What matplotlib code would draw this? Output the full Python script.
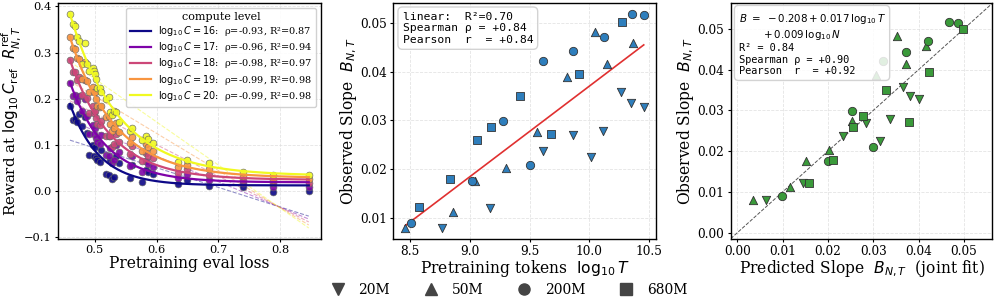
import numpy as np
import matplotlib
import matplotlib.pyplot as plt
from matplotlib.lines import Line2D

matplotlib.use("Agg")

plt.rcParams["font.family"] = "DejaVu Serif"
plt.rcParams["mathtext.fontset"] = "dejavusans"

# ---- panel 1: reward at each compute level vs pretraining eval loss ----
eval_loss = [0.460, 0.465, 0.468, 0.472, 0.474, 0.480, 0.485, 0.487, 0.491, 0.497,
             0.499, 0.500, 0.502, 0.503, 0.508, 0.510, 0.519, 0.523, 0.525, 0.528,
             0.531, 0.535, 0.540, 0.557, 0.560, 0.576, 0.583, 0.586, 0.5935, 0.635,
             0.650, 0.685, 0.740, 0.788, 0.846]
reward_c16 = [0.183, 0.154, 0.156, 0.148, 0.166, 0.140, 0.160, 0.125, 0.077, 0.100,
              0.076, 0.095, 0.071, 0.067, 0.062, 0.088, 0.036, 0.033, 0.066, 0.025,
              0.030, 0.075, 0.060, 0.027, 0.055, 0.018, 0.045, 0.040, 0.035, 0.015,
              0.024, 0.009, 0.008, -0.002, 0.000]
reward_c17 = [0.233, 0.206, 0.207, 0.194, 0.206, 0.174, 0.200, 0.163, 0.123, 0.142,
              0.122, 0.135, 0.114, 0.106, 0.102, 0.120, 0.077, 0.076, 0.092, 0.060,
              0.066, 0.099, 0.083, 0.053, 0.076, 0.041, 0.064, 0.058, 0.052, 0.027,
              0.035, 0.022, 0.016, 0.007, 0.008]
reward_c18 = [0.283, 0.258, 0.257, 0.241, 0.246, 0.208, 0.240, 0.201, 0.169, 0.184,
              0.168, 0.174, 0.157, 0.145, 0.142, 0.152, 0.118, 0.119, 0.118, 0.095,
              0.101, 0.123, 0.105, 0.079, 0.096, 0.064, 0.082, 0.076, 0.070, 0.039,
              0.046, 0.034, 0.024, 0.016, 0.017]
reward_c19 = [0.333, 0.309, 0.308, 0.287, 0.286, 0.242, 0.280, 0.238, 0.214, 0.225,
              0.214, 0.214, 0.199, 0.183, 0.182, 0.183, 0.159, 0.161, 0.144, 0.130,
              0.137, 0.146, 0.128, 0.104, 0.117, 0.087, 0.101, 0.094, 0.087, 0.051,
              0.056, 0.047, 0.032, 0.024, 0.025]
reward_c20 = [0.383, 0.361, 0.358, 0.333, 0.326, 0.276, 0.320, 0.276, 0.260, 0.267,
              0.260, 0.253, 0.242, 0.222, 0.222, 0.215, 0.200, 0.204, 0.170, 0.165,
              0.172, 0.170, 0.150, 0.130, 0.137, 0.110, 0.119, 0.112, 0.104, 0.063,
              0.067, 0.059, 0.040, 0.033, 0.033]
compute_levels = [16, 17, 18, 19, 20]
level_rho = ["-0.93", "-0.96", "-0.98", "-0.99", "-0.99"]
level_r2 = ["0.87", "0.94", "0.97", "0.98", "0.98"]

# ---- panels 2 & 3: slope per model size ----
size_labels = ["20M", "50M", "200M", "680M"]
size_markers = ["v", "^", "o", "s"]

tokens_20m = [8.765, 9.17, 9.609, 9.863, 10.01, 10.117, 10.268, 10.35, 10.455]
slope_20m = [0.0079, 0.0121, 0.0236, 0.0269, 0.0225, 0.0279, 0.0358, 0.0336, 0.0327]
pred_20m = [0.0063, 0.0144, 0.0233, 0.0284, 0.0314, 0.0336, 0.0365, 0.0382, 0.0402]

tokens_50m = [8.46, 8.863, 9.045, 9.304, 9.559, 9.81, 10.045, 10.148, 10.363]
slope_50m = [0.0079, 0.0112, 0.0175, 0.0203, 0.0275, 0.0388, 0.0482, 0.0415, 0.0459]
pred_50m = [0.0034, 0.0115, 0.0152, 0.0203, 0.0254, 0.0305, 0.0352, 0.0373, 0.0416]

tokens_200m = [8.51, 9.022, 9.277, 9.505, 9.615, 9.866, 10.12, 10.355, 10.455]
slope_200m = [0.0089, 0.0176, 0.0299, 0.0209, 0.0421, 0.0443, 0.0471, 0.0518, 0.0515]
pred_200m = [0.0099, 0.0200, 0.0253, 0.0299, 0.0321, 0.0372, 0.0422, 0.0468, 0.0488]

tokens_680m = [8.575, 8.835, 9.064, 9.176, 9.42, 9.68, 9.91, 10.27]
slope_680m = [0.0122, 0.0179, 0.0260, 0.0286, 0.0350, 0.0271, 0.0395, 0.0501]
pred_680m = [0.0159, 0.0210, 0.0256, 0.0278, 0.0328, 0.0379, 0.0424, 0.0499]

tokens_by_size = [tokens_20m, tokens_50m, tokens_200m, tokens_680m]
slope_by_size = [slope_20m, slope_50m, slope_200m, slope_680m]
pred_by_size = [pred_20m, pred_50m, pred_200m, pred_680m]


def fit_exp_decay(x, y):
    # y = a * exp(-b (x - x0)) + c, grid over b, least squares for a, c
    best = None
    x0 = x.min()
    for b in np.linspace(1.0, 40.0, 781):
        A = np.column_stack([np.exp(-b * (x - x0)), np.ones_like(x)])
        coef = np.linalg.lstsq(A, y, rcond=None)[0]
        sse = np.sum((A @ coef - y) ** 2)
        if best is None or sse < best[0]:
            best = (sse, b, coef)
    _, b, (a, c) = best
    return lambda t: a * np.exp(-b * (t - x0)) + c


fig = plt.figure(figsize=(9.96, 3.01), dpi=100)
ax1 = fig.add_axes([0.0582, 0.207, 0.2638, 0.782])
ax2 = fig.add_axes([0.3949, 0.207, 0.2634, 0.782])
ax3 = fig.add_axes([0.7336, 0.207, 0.2627, 0.782])

for ax in (ax1, ax2, ax3):
    ax.grid(True, color="#dddddd", lw=0.6, ls="--", alpha=0.8)
    ax.set_axisbelow(True)
    ax.tick_params(labelsize=8.7, length=2.5, pad=2)
    for sp in ax.spines.values():
        sp.set_linewidth(1.0)
ax1.tick_params(labelsize=8.2)

# panel 1
colors = plt.cm.plasma(np.linspace(0, 1, 5))
loss = np.array(eval_loss)
xs = np.linspace(loss.min(), loss.max(), 300)
handles = []
labels = []
for lvl, rw, col, rho, r2 in zip(compute_levels,
                                 [reward_c16, reward_c17, reward_c18, reward_c19, reward_c20],
                                 colors, level_rho, level_r2):
    rw = np.array(rw)
    ax1.scatter(loss, rw, s=24, color=col, edgecolor="#666666", linewidth=0.5,
                alpha=0.9, zorder=3)
    k, c0 = np.polyfit(loss, rw, 1)
    ax1.plot(xs, k * xs + c0, color=col, lw=0.8, ls="--", alpha=0.45, zorder=2)
    f = fit_exp_decay(loss, rw)
    ax1.plot(xs, f(xs), color=col, lw=1.6, zorder=4)
    handles.append(Line2D([], [], color=col, lw=1.6))
    labels.append(rf"$\log_{{10}}C = {lvl}$:  ρ={rho}, R²={r2}")

ax1.legend(handles, labels, title="compute level", loc="upper right", fontsize=7,
           title_fontsize=8, handlelength=2.2, labelspacing=0.22, framealpha=0.9,
           borderpad=0.4, handletextpad=0.7)
ax1.set_xlabel("Pretraining eval loss", fontsize=11.2, labelpad=0)
ax1.set_ylabel(r"Reward at $\log_{10}C_{\rm ref}$  $R^{\rm ref}_{N,T}$", fontsize=10.8,
               labelpad=1)
ax1.set_yticks([-0.1, 0.0, 0.1, 0.2, 0.3, 0.4])

# panel 2
blue = "#2e7ebc"
for tk, sl, mk in zip(tokens_by_size, slope_by_size, size_markers):
    ax2.scatter(tk, sl, marker=mk, s=36, color=blue, edgecolor="#333333",
                linewidth=0.6, zorder=3)
all_t = np.concatenate([np.array(t) for t in tokens_by_size])
all_b = np.concatenate([np.array(b) for b in slope_by_size])
k, c0 = np.polyfit(all_t, all_b, 1)
tt = np.linspace(all_t.min(), all_t.max(), 50)
ax2.plot(tt, k * tt + c0, color="#e03030", lw=1.2, zorder=2)
ax2.text(0.035, 0.965, "linear:  R²=0.70\nSpearman ρ = +0.84\nPearson  r  = +0.84",
         transform=ax2.transAxes, va="top", ha="left", family="DejaVu Sans Mono",
         fontsize=8.2, zorder=5,
         bbox=dict(boxstyle="round,pad=0.4", fc="white", ec="#cccccc", alpha=0.85))
ax2.set_xlabel(r"Pretraining tokens  $\log_{10}T$", fontsize=11.2, labelpad=0)
ax2.set_ylabel(r"Observed Slope  $B_{N,T}$", fontsize=11.2, labelpad=1)
ax2.set_xticks([8.5, 9.0, 9.5, 10.0, 10.5])

# panel 3
green = "#3a9a3a"
for pr, sl, mk in zip(pred_by_size, slope_by_size, size_markers):
    ax3.scatter(pr, sl, marker=mk, s=36, color=green, edgecolor="#333333",
                linewidth=0.6, zorder=3)
lim = (-0.0015, 0.0563)
ax3.plot(lim, lim, color="#555555", lw=0.7, ls="--", zorder=2)
ax3.set_xlim(lim)
ax3.set_ylim(lim)
ax3.text(0.03, 0.965,
         "$B\\ =\\ -0.208+0.017\\,\\log_{10}T$\n    $+\\,0.009\\,\\log_{10}N$\n"
         "R² = 0.84\nSpearman ρ = +0.90\nPearson  r  = +0.92",
         transform=ax3.transAxes, va="top", ha="left", family="DejaVu Sans Mono",
         fontsize=7.4, zorder=5,
         bbox=dict(boxstyle="round,pad=0.4", fc="white", ec="#cccccc", alpha=0.85))
ax3.set_xlabel(r"Predicted Slope  $B_{N,T}$  (joint fit)", fontsize=11.2, labelpad=0)
ax3.set_ylabel(r"Observed Slope  $B_{N,T}$", fontsize=11.2, labelpad=1)
ticks3 = [0.0, 0.01, 0.02, 0.03, 0.04, 0.05]
ax3.set_xticks(ticks3)
ax3.set_yticks(ticks3)

# shared marker legend
size_handles = [Line2D([], [], marker=m, ls="", color="#444444", markersize=8)
                for m in size_markers]
fig.legend(size_handles, size_labels, loc="center", bbox_to_anchor=(0.5075, 0.0365),
           ncol=4, frameon=False, fontsize=10, handlelength=2.0, handletextpad=0.49,
           columnspacing=1.95)

fig.savefig("out.png", dpi=100)
